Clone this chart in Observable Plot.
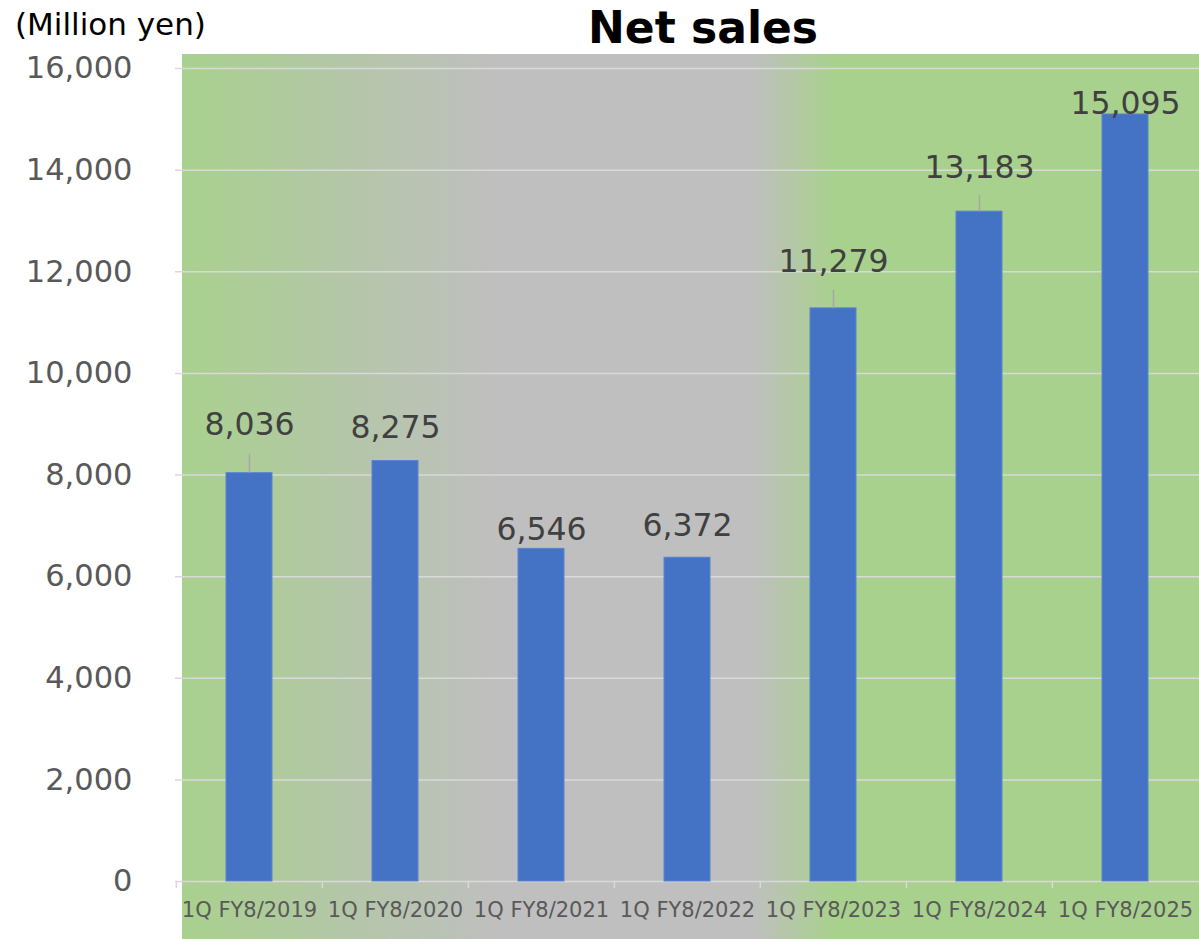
<!DOCTYPE html>
<html>
<head>
<meta charset="utf-8">
<script src="https://cdn.jsdelivr.net/npm/d3@7"></script>
<script src="https://cdn.jsdelivr.net/npm/@observablehq/plot@0.6"></script>
<style>
  body { margin: 0; background: #fff; font-family: "DejaVu Sans", Verdana, sans-serif; }
  #wrap { position: relative; width: 1199px; height: 939px; overflow: hidden; }
  #bg { position: absolute; left: 182px; top: 54px; width: 1017px; height: 885px;
        background: linear-gradient(to right, #a9d18e 0%, #b3c7a6 15%, #bfbfbf 31%, #bfbfbf 56%, #a9d18e 64%, #a9d18e 100%); }
  #title { position: absolute; left: 0; width: 1406px; text-align: center; top: 0px;
           font-size: 44px; font-weight: bold; color: #000; line-height: 56px; }
  #unit { position: absolute; left: 15px; top: 4px; font-size: 31px; color: #000; line-height: 40px; }
  #chart { position: absolute; left: 0; top: 0; }
</style>
</head>
<body>
<div id="wrap">
  <div id="bg"></div>
  <div id="title">Net sales</div>
  <div id="unit">(Million yen)</div>
  <div id="chart"></div>
</div>
<script>
const categories = ["1Q FY8/2019", "1Q FY8/2020", "1Q FY8/2021", "1Q FY8/2022", "1Q FY8/2023", "1Q FY8/2024", "1Q FY8/2025"];
const values = [8036, 8275, 6546, 6372, 11279, 13183, 15095];
const yTicks = [0, 2000, 4000, 6000, 8000, 10000, 12000, 14000, 16000];

// label placement (pixels above bar top) and leader-line lengths (pixels)
const labelOffset = [48, 33, 19, 32, 46, 44, 11];
const leaderLength = [19, 0, 0, 0, 18, 16, 0];

const W = 1199, H = 939, mTop = 68, mBottom = 58, mLeft = 175, mRight = 0;
const yMax = 16000;
const pxToUnits = yMax / (H - mTop - mBottom);
const bw = (W - mLeft - mRight) / categories.length;

const data = categories.map((c, i) => ({category: c, value: values[i], off: labelOffset[i], lead: leaderLength[i]}));
const fmt = d3.format(",");

const chart = Plot.plot({
  width: W, height: H,
  marginTop: mTop, marginBottom: mBottom, marginLeft: mLeft, marginRight: mRight,
  style: {background: "transparent", fontFamily: "DejaVu Sans, Verdana, sans-serif", overflow: "visible"},
  x: {domain: categories, padding: 0, label: null},
  y: {domain: [0, yMax], label: null},
  marks: [
    Plot.ruleY(yTicks, {stroke: "#d9d9d9", strokeWidth: 1.5}),
    Plot.ruleX(categories, {x: d => d, dx: -bw / 2, y1: 0, y2: -7 * pxToUnits, stroke: "#d9d9d9", strokeWidth: 1.5}),
    Plot.barY(data, {x: "category", y: "value", fill: "#4472c4", stroke: "#5b84cc", strokeWidth: 1, insetLeft: 50, insetRight: 50}),
    Plot.ruleX(data.filter(d => d.lead > 0), {x: "category", y1: "value", y2: d => d.value + d.lead * pxToUnits, stroke: "#a6a6a6", strokeWidth: 1.5}),
    Plot.text(data, {x: "category", y: d => d.value + d.off * pxToUnits, text: d => fmt(d.value), fontSize: 31.5, fill: "#404040"}),
    Plot.axisY({ticks: yTicks, tickSize: 0, tickPadding: 43, fontSize: 30.5, fill: "#595959", tickFormat: fmt, label: null}),
    Plot.axisX({tickSize: 0, tickPadding: 21, fontSize: 21, fill: "#595959", label: null})
  ]
});
document.getElementById("chart").appendChild(chart);
</script>
</body>
</html>
